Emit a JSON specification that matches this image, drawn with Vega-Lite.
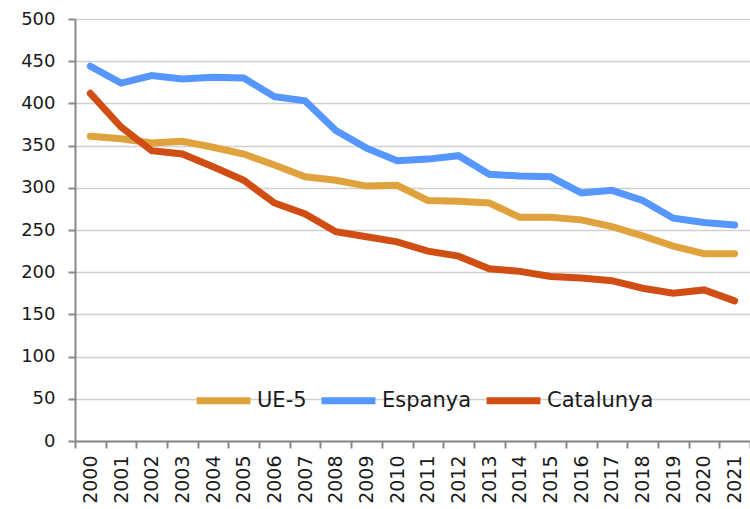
{
  "$schema": "https://vega.github.io/schema/vega-lite/v6.json",
  "width": 675,
  "height": 422,
  "autosize": {"type": "none"},
  "padding": {"left": 75, "top": 19, "right": 0, "bottom": 68},
  "background": "white",
  "config": {
    "view": {"stroke": null},
    "font": "DejaVu Sans",
    "axis": {"labelColor": "#1a1a1a", "labelFont": "DejaVu Sans", "domainColor": "#888888", "tickColor": "#888888", "domainWidth": 2, "tickWidth": 2}
  },
  "data": {
    "values": [
      {"year": "2000", "s": "UE-5", "v": 361}, {"year": "2001", "s": "UE-5", "v": 358}, {"year": "2002", "s": "UE-5", "v": 353}, {"year": "2003", "s": "UE-5", "v": 355}, {"year": "2004", "s": "UE-5", "v": 348}, {"year": "2005", "s": "UE-5", "v": 340}, {"year": "2006", "s": "UE-5", "v": 327}, {"year": "2007", "s": "UE-5", "v": 313}, {"year": "2008", "s": "UE-5", "v": 309}, {"year": "2009", "s": "UE-5", "v": 302}, {"year": "2010", "s": "UE-5", "v": 303}, {"year": "2011", "s": "UE-5", "v": 285}, {"year": "2012", "s": "UE-5", "v": 284}, {"year": "2013", "s": "UE-5", "v": 282}, {"year": "2014", "s": "UE-5", "v": 265}, {"year": "2015", "s": "UE-5", "v": 265}, {"year": "2016", "s": "UE-5", "v": 262}, {"year": "2017", "s": "UE-5", "v": 254}, {"year": "2018", "s": "UE-5", "v": 243}, {"year": "2019", "s": "UE-5", "v": 231}, {"year": "2020", "s": "UE-5", "v": 222}, {"year": "2021", "s": "UE-5", "v": 222},
      {"year": "2000", "s": "Espanya", "v": 444}, {"year": "2001", "s": "Espanya", "v": 424}, {"year": "2002", "s": "Espanya", "v": 433}, {"year": "2003", "s": "Espanya", "v": 429}, {"year": "2004", "s": "Espanya", "v": 431}, {"year": "2005", "s": "Espanya", "v": 430}, {"year": "2006", "s": "Espanya", "v": 408}, {"year": "2007", "s": "Espanya", "v": 403}, {"year": "2008", "s": "Espanya", "v": 368}, {"year": "2009", "s": "Espanya", "v": 347}, {"year": "2010", "s": "Espanya", "v": 332}, {"year": "2011", "s": "Espanya", "v": 334}, {"year": "2012", "s": "Espanya", "v": 338}, {"year": "2013", "s": "Espanya", "v": 316}, {"year": "2014", "s": "Espanya", "v": 314}, {"year": "2015", "s": "Espanya", "v": 313}, {"year": "2016", "s": "Espanya", "v": 294}, {"year": "2017", "s": "Espanya", "v": 297}, {"year": "2018", "s": "Espanya", "v": 285}, {"year": "2019", "s": "Espanya", "v": 264}, {"year": "2020", "s": "Espanya", "v": 259}, {"year": "2021", "s": "Espanya", "v": 256},
      {"year": "2000", "s": "Catalunya", "v": 412}, {"year": "2001", "s": "Catalunya", "v": 372}, {"year": "2002", "s": "Catalunya", "v": 344}, {"year": "2003", "s": "Catalunya", "v": 340}, {"year": "2004", "s": "Catalunya", "v": 325}, {"year": "2005", "s": "Catalunya", "v": 309}, {"year": "2006", "s": "Catalunya", "v": 282}, {"year": "2007", "s": "Catalunya", "v": 269}, {"year": "2008", "s": "Catalunya", "v": 248}, {"year": "2009", "s": "Catalunya", "v": 242}, {"year": "2010", "s": "Catalunya", "v": 236}, {"year": "2011", "s": "Catalunya", "v": 225}, {"year": "2012", "s": "Catalunya", "v": 219}, {"year": "2013", "s": "Catalunya", "v": 204}, {"year": "2014", "s": "Catalunya", "v": 201}, {"year": "2015", "s": "Catalunya", "v": 195}, {"year": "2016", "s": "Catalunya", "v": 193}, {"year": "2017", "s": "Catalunya", "v": 190}, {"year": "2018", "s": "Catalunya", "v": 181}, {"year": "2019", "s": "Catalunya", "v": 175}, {"year": "2020", "s": "Catalunya", "v": 179}, {"year": "2021", "s": "Catalunya", "v": 166}
    ]
  },
  "mark": {"type": "line", "strokeWidth": 7, "strokeCap": "round", "strokeJoin": "miter"},
  "encoding": {
    "x": {
      "field": "year", "type": "ordinal", "title": null,
      "scale": {"paddingInner": 0, "paddingOuter": 0},
      "axis": {"labelAngle": -90, "labelAlign": "right", "labelBaseline": "middle", "labelFontSize": 19, "labelPadding": 7, "tickSize": 7, "bandPosition": 0, "tickBand": "extent", "grid": false, "labelOverlap": false}
    },
    "y": {
      "field": "v", "type": "quantitative", "title": null,
      "scale": {"domain": [0, 500], "nice": false},
      "axis": {"values": [0, 50, 100, 150, 200, 250, 300, 350, 400, 450, 500], "labelFontSize": 18, "labelPadding": 13, "tickSize": 7, "gridColor": "#d0d0d0", "gridWidth": 1.5}
    },
    "color": {
      "field": "s", "type": "nominal", "title": null,
      "sort": ["UE-5", "Espanya", "Catalunya"],
      "scale": {"domain": ["UE-5", "Espanya", "Catalunya"], "range": ["#E0A23C", "#5596FF", "#D04E14"]},
      "legend": {"orient": "none", "legendX": 118, "legendY": 351, "direction": "horizontal", "symbolType": "stroke", "symbolSize": 2900, "symbolStrokeWidth": 7, "labelFontSize": 21, "labelColor": "#1a1a1a", "labelOffset": 3, "columnPadding": 0, "labelFont": "DejaVu Sans"}
    }
  }
}
